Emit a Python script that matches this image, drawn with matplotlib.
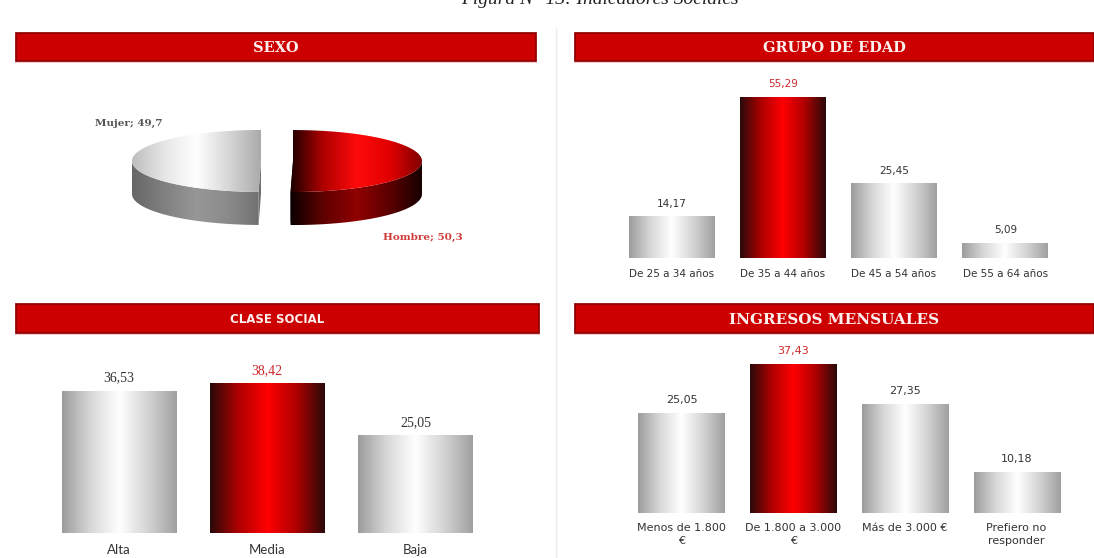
import matplotlib
matplotlib.use("Agg")
import matplotlib.pyplot as plt
import numpy as np
from matplotlib.colors import LinearSegmentedColormap
from matplotlib.patches import Rectangle, Polygon

# ---- datos ----
sexo_labels = ["Mujer", "Hombre"]
sexo_values = [49.7, 50.3]

edad_labels = ["De 25 a 34 años", "De 35 a 44 años", "De 45 a 54 años", "De 55 a 64 años"]
edad_values = [14.17, 55.29, 25.45, 5.09]

clase_labels = ["Alta", "Media", "Baja"]
clase_values = [36.53, 38.42, 25.05]

ingresos_labels = ["Menos de 1.800\n€", "De 1.800 a 3.000\n€", "Más de 3.000 €", "Prefiero no\nresponder"]
ingresos_values = [25.05, 37.43, 27.35, 10.18]

W, H = 1094, 558
RED = "#cc0000"
GRAY_BAR = ["#9c9c9c", "#d8d8d8", "#ffffff", "#d4d4d4", "#a0a0a0"]
RED_BAR = ["#2a0a0a", "#b00000", "#ff0000", "#b00000", "#2a0a0a"]


def fmt(v, dec=2):
    return f"{v:.{dec}f}".replace(".", ",")


def gradient(ax, extent, colors, clip=None, zorder=2):
    cmap = LinearSegmentedColormap.from_list("g", colors)
    grad = np.linspace(0, 1, 256).reshape(1, -1)
    im = ax.imshow(grad, cmap=cmap, extent=extent, aspect="auto",
                   zorder=zorder, interpolation="bilinear")
    if clip is not None:
        im.set_clip_path(clip)
    return im


fig = plt.figure(figsize=(W / 100, H / 100), dpi=100)
fig.patch.set_facecolor("white")

# canvas in pixel coordinates
cv = fig.add_axes([0, 0, 1, 1])
cv.set_xlim(0, W)
cv.set_ylim(H, 0)
cv.axis("off")

# figure caption, cut off at the top edge like in the source
cv.text(600, 4, "Figura N° 13: Indicadores Sociales", ha="center", va="baseline",
        fontsize=14, fontstyle="italic", family="Liberation Serif", color="#222222")

# divider
cv.plot([556, 556], [28, H], color="#ececec", lw=1, zorder=0)


def header(x0, x1, y0, y1, title, font, size):
    cv.add_patch(Rectangle((x0 - 1, y0 - 1), x1 - x0 + 2, y1 - y0 + 3,
                           facecolor="#f3c9c9", edgecolor="none", zorder=1))
    cv.add_patch(Rectangle((x0, y0), x1 - x0, y1 - y0, facecolor=RED,
                           edgecolor="#8a0000", lw=1.2, zorder=2))
    cv.text((x0 + x1) / 2, (y0 + y1) / 2 + 1, title, ha="center", va="center",
            color="#fff0f0", fontsize=size, fontweight="bold", family=font, zorder=3)


header(16, 536, 33, 61, "SEXO", "DejaVu Serif", 10.5)
header(575, 1094, 33, 61, "GRUPO DE EDAD", "DejaVu Serif", 10.5)
header(16, 539, 304, 333, "CLASE SOCIAL", "DejaVu Sans", 8.5)
header(575, 1094, 304, 333, "INGRESOS MENSUALES", "DejaVu Serif", 11)

# ---- pie 3D (SEXO) ----
cx, cy, rx, ry, depth, explode = 277, 161, 129, 31, 33, 16
total = sum(sexo_values)
mujer_span = 360 * sexo_values[0] / total
wedges = [
    (90, 90 + mujer_span),          # Mujer, counter-clockwise
    (90 - (360 - mujer_span), 90),  # Hombre
]
top_cols = [["#bcbcbc", "#e6e6e6", "#ffffff", "#d6d6d6", "#a9a9a9"],
            ["#1a0000", "#b00000", "#ff0a0a", "#e00000", "#7a0000"]]
side_cols = [["#666666", "#808080", "#979797", "#8a8a8a", "#6e6e6e"],
             ["#0a0000", "#600000", "#900000", "#5a0000", "#140000"]]

for i, (a0, a1) in enumerate(wedges):
    mid = np.radians((a0 + a1) / 2)
    ox = cx + explode * np.cos(mid)
    oy = cy - explode * np.sin(mid) * ry / rx
    th = np.radians(np.linspace(a0, a1, 200))
    ax_pts = ox + rx * np.cos(th)
    ay_pts = oy - ry * np.sin(th)
    xmin = min(ax_pts.min(), ox) - 1
    xmax = max(ax_pts.max(), ox) + 1

    front = np.sin(th) <= 0
    fx, fy = ax_pts[front], ay_pts[front]
    side = Polygon(np.column_stack([np.r_[fx, fx[::-1]], np.r_[fy, fy[::-1] + depth]]),
                   closed=True, facecolor="none", edgecolor="none")
    cv.add_patch(side)
    gradient(cv, (xmin, xmax, oy + ry + depth + 2, oy - 2), side_cols[i], clip=side, zorder=2)

    # cut face at the lower straight edge
    k = 0 if i == 1 else -1
    bx, by = ax_pts[k], ay_pts[k]
    cut = Polygon([(ox, oy), (bx, by), (bx, by + depth), (ox, oy + depth)],
                  closed=True, facecolor="none", edgecolor="none")
    cv.add_patch(cut)
    gradient(cv, (xmin, xmax, oy + ry + depth + 2, oy - 2), side_cols[i], clip=cut, zorder=2)

    topf = Polygon(np.column_stack([np.r_[ox, ax_pts], np.r_[oy, ay_pts]]),
                   closed=True, facecolor="none", edgecolor="none")
    cv.add_patch(topf)
    gradient(cv, (xmin, xmax, oy + ry + 1, oy - ry - 1), top_cols[i], clip=topf, zorder=3)

cv.text(95, 123, f"{sexo_labels[0]}; {fmt(sexo_values[0], 1)}", ha="left", va="center",
        fontsize=7.5, fontweight="bold", family="DejaVu Serif", color="#555555")
cv.text(383, 237, f"{sexo_labels[1]}; {fmt(sexo_values[1], 1)}", ha="left", va="center",
        fontsize=7.5, fontweight="bold", family="DejaVu Serif", color="#d03a3a")


# ---- bar panels ----
def bar_panel(labels, values, left, right, base, top, ymax, width, lab_font, lab_size,
              val_font, val_size, pad, linesp=1.2):
    ax = fig.add_axes([left / W, 1 - base / H, (right - left) / W, (base - top) / H])
    ax.patch.set_alpha(0)
    x = np.arange(len(values))
    bars = ax.bar(x, values, width=width, color="none", edgecolor="none")
    hi = int(np.argmax(values))
    for j, p in enumerate(bars):
        bb = p.get_bbox()
        gradient(ax, (bb.x0, bb.x1, bb.y0, bb.y1), RED_BAR if j == hi else GRAY_BAR)
        ax.annotate(fmt(values[j]), (x[j], values[j]), xytext=(0, 9.5),
                    textcoords="offset points", ha="center", va="center",
                    fontsize=val_size, family=val_font,
                    color="#cc2a2a" if j == hi else "#333333")
    ax.set_xlim(-0.5, len(values) - 0.5)
    ax.set_ylim(0, ymax)
    ax.set_xticks(x)
    ax.set_xticklabels(labels, fontsize=lab_size, family=lab_font, color="#333333",
                       linespacing=linesp)
    ax.tick_params(axis="x", length=0, pad=pad)
    ax.set_yticks([])
    for s in ax.spines.values():
        s.set_visible(False)
    return ax


bar_panel(edad_labels, edad_values, 615.8, 1061, 258, 70, (258 - 70) / 2.91, 0.77,
          "DejaVu Sans", 7.5, "DejaVu Sans", 7.5, 8)
bar_panel(clase_labels, clase_values, 45, 489.5, 533, 345, (533 - 345) / 3.88, 0.77,
          "Lato", 9.5, "Liberation Serif", 10, 8)
bar_panel(ingresos_labels, ingresos_values, 625.6, 1072.4, 513, 345, (513 - 345) / 3.98, 0.77,
          "DejaVu Sans", 8, "DejaVu Sans", 8, 7, linesp=1.35)

fig.savefig("out.png", dpi=100)
